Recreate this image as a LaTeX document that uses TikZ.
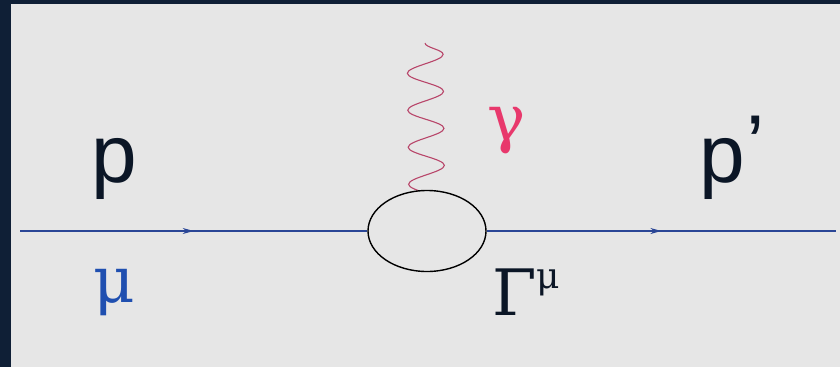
\documentclass[tikz,border=0pt]{standalone}
\usepackage{fontspec}
\newfontfamily\labelsans{Liberation Sans}
\newfontfamily\labelserif{DejaVu Serif}
\usepackage{tikz}
\usetikzlibrary{arrows.meta,shapes.geometric,decorations.pathmorphing,decorations.markings,backgrounds,positioning}

\definecolor{framenavy}{HTML}{0F1F36}
\definecolor{panelgray}{HTML}{E6E6E6}
\definecolor{fermionblue}{HTML}{2A4696}
\definecolor{photonpink}{HTML}{B8466A}
\definecolor{gammapink}{HTML}{E8386C}
\definecolor{mublue}{HTML}{1F4FB0}
\definecolor{inkdark}{HTML}{0B1626}

\tikzset{
  fermion/.style={fermionblue, line width=1.2pt,
    postaction={decorate},
    decoration={markings, mark=at position 0.5 with {\arrow{Stealth[length=11pt,width=6pt]}}}},
  photon/.style={photonpink, line width=1.1pt,
    decorate, decoration={snake, segment length=37pt, amplitude=18pt}},
  vertexblob/.style={ellipse, draw=black, fill=panelgray, line width=1.4pt, inner sep=0pt,
    minimum width=118pt, minimum height=81pt},
  momlabel/.style={inkdark, anchor=base, inner sep=0pt, font=\labelsans\fontsize{82}{82}\selectfont},
  greeklabel/.style={anchor=base, inner sep=0pt, font=\labelserif\fontsize{64}{64}\selectfont}
}

\begin{document}
\begin{tikzpicture}[x=1pt, y=-1pt, line join=round]
\useasboundingbox (0,0) rectangle (840,367);
\begin{scope}[on background layer]
\fill[framenavy] (0,0) rectangle (840,367);
\fill[panelgray] (11,4) rectangle (840,367);
\end{scope}

% vertex and external legs
\node[vertexblob] (vtx) at (427,231) {};
\coordinate (in) at (20,231);
\coordinate (out) at (836,231);
\coordinate (gtop) at (425,43);
\draw[fermion] (in) -- (vtx.west);
\draw[fermion] (vtx.east) -- (out);
% photon runs on into the blob, which hides the straight rest
\begin{scope}[on background layer]
\draw[photon] (gtop) -- ([yshift=-31pt]vtx.north);
\end{scope}

% labels
\node[momlabel] (pin) at (114,182) {p};
\node[greeklabel, mublue] (muin) at (114,302) {μ};
\node[greeklabel, gammapink] (gam) at (507,140) {γ};
\node[momlabel, anchor=base west] (pout) at (699,182) {p\kern2pt\raisebox{0.12em}{’}};
\node[greeklabel, inkdark, anchor=base west] (Gam) at (492,315) {Γ\raisebox{0.42em}{\fontsize{36}{36}\selectfont μ}};
\end{tikzpicture}
\end{document}
